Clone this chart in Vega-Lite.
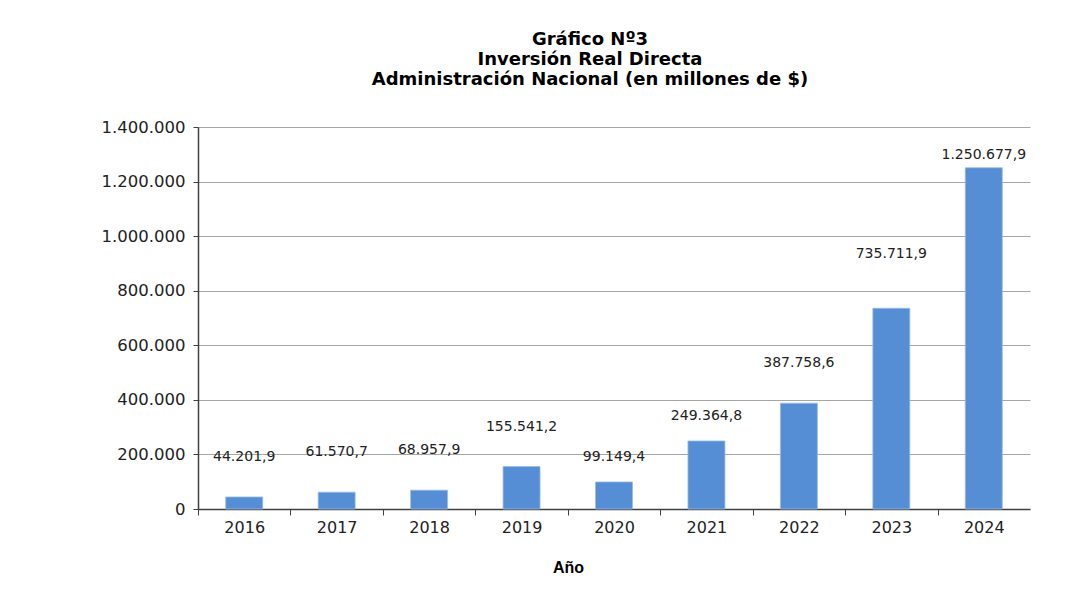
{
  "$schema": "https://vega.github.io/schema/vega-lite/v6.json",
  "width": 832,
  "height": 382,
  "autosize": {"type": "none"},
  "padding": {"left": 198, "top": 127, "right": 46, "bottom": 104},
  "background": "white",
  "config": {
    "locale": {"number": {"decimal": ",", "thousands": ".", "grouping": [3], "currency": ["$", ""]}},
    "view": {"stroke": null},
    "font": "Liberation Sans"
  },
  "title": {
    "text": ["Gráfico Nº3", "Inversión Real Directa", "Administración Nacional (en millones de $)"],
    "font": "DejaVu Sans",
    "fontSize": 18,
    "fontWeight": "bold",
    "color": "#000000",
    "lineHeight": 20,
    "anchor": "middle",
    "dx": -24,
    "offset": 30
  },
  "data": {
    "values": [
      {"year": "2016", "value": 44201.9},
      {"year": "2017", "value": 61570.7},
      {"year": "2018", "value": 68957.9},
      {"year": "2019", "value": 155541.2},
      {"year": "2020", "value": 99149.4},
      {"year": "2021", "value": 249364.8},
      {"year": "2022", "value": 387758.6},
      {"year": "2023", "value": 735711.9},
      {"year": "2024", "value": 1250677.9}
    ]
  },
  "encoding": {
    "x": {
      "field": "year",
      "type": "ordinal",
      "scale": {"paddingInner": 0.6, "paddingOuter": 0.3},
      "axis": {
        "title": "Año",
        "titleFont": "Liberation Sans",
        "titleFontSize": 16,
        "titleFontWeight": "bold",
        "titleColor": "#000000",
        "titleX": 370,
        "titleY": 58,
        "titleBaseline": "middle",
        "labelAngle": 0,
        "labelFont": "DejaVu Sans",
        "labelFontSize": 16,
        "labelColor": "#222222",
        "labelPadding": 4,
        "tickOffset": -46.2,
        "labelOffset": 46.2,
        "tickSize": 6,
        "tickColor": "#404040",
        "domainColor": "#404040",
        "domainWidth": 1.5,
        "grid": false
      }
    },
    "y": {
      "field": "value",
      "type": "quantitative",
      "scale": {"domain": [0, 1400000], "nice": false},
      "axis": {
        "title": null,
        "values": [0, 200000, 400000, 600000, 800000, 1000000, 1200000, 1400000],
        "format": ",d",
        "labelFont": "DejaVu Sans",
        "labelFontSize": 16.5,
        "labelColor": "#222222",
        "labelPadding": 8,
        "tickSize": 5,
        "tickColor": "#404040",
        "domainColor": "#404040",
        "domainWidth": 1.5,
        "grid": true,
        "gridColor": "#a6a6a6",
        "gridWidth": 1
      }
    }
  },
  "layer": [
    {
      "mark": {"type": "bar", "color": "#558ed5", "stroke": "#9cbbe6", "strokeWidth": 0.8}
    },
    {
      "transform": [{"filter": {"field": "year", "oneOf": ["2016", "2017", "2018", "2019", "2022"]}}],
      "mark": {"type": "text", "font": "DejaVu Sans", "fontSize": 14, "color": "#222222", "dy": -40, "baseline": "middle"},
      "encoding": {"text": {"field": "value", "type": "quantitative", "format": ",.1f"}}
    },
    {
      "transform": [{"filter": {"field": "year", "oneOf": ["2020", "2021"]}}],
      "mark": {"type": "text", "font": "DejaVu Sans", "fontSize": 14, "color": "#222222", "dy": -25, "baseline": "middle"},
      "encoding": {"text": {"field": "value", "type": "quantitative", "format": ",.1f"}}
    },
    {
      "transform": [{"filter": {"field": "year", "oneOf": ["2023"]}}],
      "mark": {"type": "text", "font": "DejaVu Sans", "fontSize": 14, "color": "#222222", "dy": -54, "baseline": "middle"},
      "encoding": {"text": {"field": "value", "type": "quantitative", "format": ",.1f"}}
    },
    {
      "transform": [{"filter": {"field": "year", "oneOf": ["2024"]}}],
      "mark": {"type": "text", "font": "DejaVu Sans", "fontSize": 14, "color": "#222222", "dy": -13, "baseline": "middle"},
      "encoding": {"text": {"field": "value", "type": "quantitative", "format": ",.1f"}}
    }
  ]
}
